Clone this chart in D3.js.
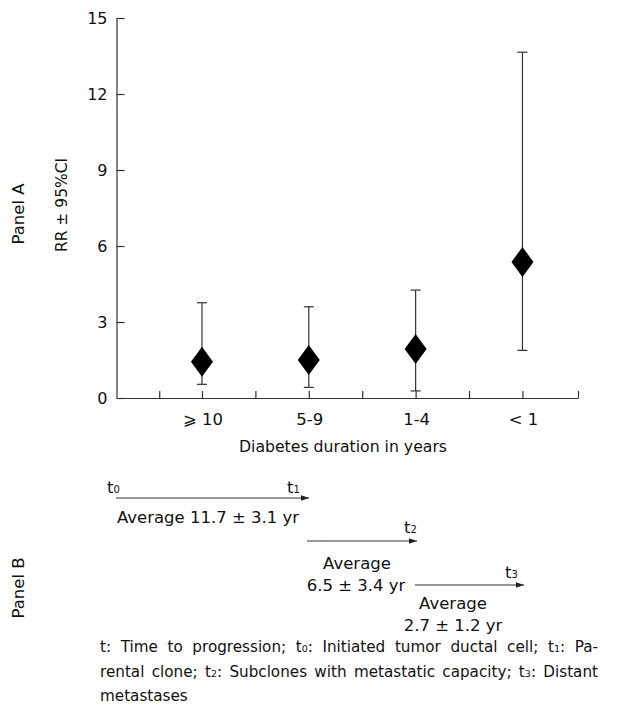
<!DOCTYPE html>
<html>
<head>
<meta charset="utf-8">
<script src="https://cdn.jsdelivr.net/npm/d3@7"></script>
<style>
  body { margin: 0; background: #fff; }
  #chart { position: relative; width: 625px; height: 718px; }
  .note { position: absolute; left: 100px; width: 498px; font-family: "DejaVu Sans", sans-serif;
          font-size: 15.2px; color: #111; line-height: 22.5px; }
  .note .ln { text-align: justify; text-align-last: justify; white-space: nowrap; }
  .note .last { text-align-last: left; }
  .note sub { font-size: 9.5px; vertical-align: baseline; }
</style>
</head>
<body>
<div id="chart"></div>
<script>
// Panel A data: relative risk and 95% CI by diabetes duration
const categories = ["⩾ 10", "5-9", "1-4", "< 1"];
const rr = [1.43, 1.5, 1.93, 5.37];
const ciLow = [0.54, 0.42, 0.28, 1.88];
const ciHigh = [3.76, 3.6, 4.26, 13.65];
const yTicks = [0, 3, 6, 9, 12, 15];

// Panel B: progression stages
const stages = ["0", "1", "2", "3"];
const avgLabels = [["Average 11.7 ± 3.1 yr"], ["Average", "6.5 ± 3.4 yr"], ["Average", "2.7 ± 1.2 yr"]];

const width = 625, height = 718;
const font = "'DejaVu Sans', sans-serif";

const container = d3.select("#chart");
const svg = container.append("svg")
    .attr("width", width)
    .attr("height", height)
    .style("position", "absolute")
    .style("left", 0).style("top", 0);

const x = d3.scaleLinear().domain([0.2, 4.52]).range([116.5, 578]);
const y = d3.scaleLinear().domain([0, 15]).range([398, 18]);

// axes
const yAxis = svg.append("g")
    .attr("transform", "translate(116.5,0)")
    .call(d3.axisLeft(y).tickValues(yTicks).tickSizeInner(-8).tickSizeOuter(0).tickPadding(9));
yAxis.selectAll("text").attr("font-family", font).attr("font-size", 16).attr("fill", "#111");

const xTickVals = [0.6, 1, 1.5, 2, 2.5, 3, 3.5, 4, 4.52];
svg.append("g")
    .attr("transform", "translate(0,398)")
    .call(d3.axisBottom(x).tickValues(xTickVals).tickSizeInner(-7).tickSizeOuter(0).tickFormat(""));

svg.selectAll(".domain, .tick line").attr("stroke", "#333").attr("stroke-width", 1.2);

// category labels
svg.append("g").selectAll("text")
    .data(categories)
    .join("text")
    .attr("x", (d, i) => x(i + 1) + 1)
    .attr("y", 425)
    .attr("text-anchor", "middle")
    .attr("font-family", font)
    .attr("font-size", 16.5)
    .attr("fill", "#111")
    .text(d => d);

svg.append("text")
    .attr("x", 343).attr("y", 452)
    .attr("text-anchor", "middle")
    .attr("font-family", font).attr("font-size", 15.7)
    .attr("fill", "#111")
    .text("Diabetes duration in years");

// y titles
svg.append("text")
    .attr("transform", "translate(67,205) rotate(-90)")
    .attr("text-anchor", "middle")
    .attr("font-family", font).attr("font-size", 15.5)
    .attr("fill", "#111")
    .text("RR ± 95%CI");

svg.append("text")
    .attr("transform", "translate(24,214) rotate(-90)")
    .attr("text-anchor", "middle")
    .attr("font-family", font).attr("font-size", 16.5)
    .attr("fill", "#111")
    .text("Panel A");

svg.append("text")
    .attr("transform", "translate(24,588) rotate(-90)")
    .attr("text-anchor", "middle")
    .attr("font-family", font).attr("font-size", 16.5)
    .attr("fill", "#111")
    .text("Panel B");

// error bars
const bars = svg.append("g").selectAll("g")
    .data(rr.map((v, i) => ({ v, lo: ciLow[i], hi: ciHigh[i], i })))
    .join("g")
    .attr("stroke", "#333")
    .attr("stroke-width", 1.2);

bars.append("line")
    .attr("x1", d => x(d.i + 1)).attr("x2", d => x(d.i + 1))
    .attr("y1", d => y(d.lo)).attr("y2", d => y(d.hi));
bars.append("line")
    .attr("x1", d => x(d.i + 1) - 5).attr("x2", d => x(d.i + 1) + 5)
    .attr("y1", d => y(d.hi)).attr("y2", d => y(d.hi));
bars.append("line")
    .attr("x1", d => x(d.i + 1) - 5).attr("x2", d => x(d.i + 1) + 5)
    .attr("y1", d => y(d.lo)).attr("y2", d => y(d.lo));

// diamonds
svg.append("g").selectAll("path")
    .data(rr)
    .join("path")
    .attr("transform", (d, i) => `translate(${x(i + 1)},${y(d)})`)
    .attr("d", "M0,-15L11,0L0,15L-11,0Z")
    .attr("fill", "#000");

// Panel B arrows
svg.append("defs").append("marker")
    .attr("id", "head")
    .attr("viewBox", "0 0 10 10")
    .attr("refX", 10).attr("refY", 5)
    .attr("markerWidth", 10).attr("markerHeight", 8)
    .attr("markerUnits", "userSpaceOnUse")
    .attr("orient", "auto")
    .append("path").attr("d", "M0,1.5L10,5L0,8.5Z").attr("fill", "#222");

const arrows = [
  { x1: 116, x2: 309, y: 498 },
  { x1: 307, x2: 417, y: 541 },
  { x1: 415, x2: 524, y: 585 }
];
svg.append("g").selectAll("line")
    .data(arrows)
    .join("line")
    .attr("x1", d => d.x1).attr("x2", d => d.x2)
    .attr("y1", d => d.y).attr("y2", d => d.y)
    .attr("stroke", "#333").attr("stroke-width", 1.2)
    .attr("marker-end", "url(#head)");

// stage labels t0..t3
const stagePos = [[107, 493], [287, 493], [404, 533], [505, 578]];
stages.forEach((s, i) => {
  const t = svg.append("text")
      .attr("x", stagePos[i][0]).attr("y", stagePos[i][1])
      .attr("font-family", font).attr("font-size", 16.5)
      .attr("fill", "#111");
  t.append("tspan").text("t");
  t.append("tspan").attr("font-size", 10).text(s);
});

// average labels
const avgPos = [[208, 523, 0], [357, 569, 22], [453, 609, 22]];
avgLabels.forEach((lines, i) => {
  lines.forEach((ln, j) => {
    svg.append("text")
        .attr("x", avgPos[i][0] - (i === 1 && j === 1 ? 1 : 0))
        .attr("y", avgPos[i][1] + j * avgPos[i][2])
        .attr("text-anchor", "middle")
        .attr("font-family", font).attr("font-size", 16.5)
        .attr("fill", "#111")
        .text(ln);
  });
});

// footnote
const note = container.append("div").attr("class", "note").style("top", "636px");
note.append("div").attr("class", "ln")
    .html("t: Time to progression; t<sub>0</sub>: Initiated tumor ductal cell; t<sub>1</sub>: Pa-");
note.append("div").attr("class", "ln")
    .html("rental clone; t<sub>2</sub>: Subclones with metastatic capacity; t<sub>3</sub>: Distant");
note.append("div").attr("class", "ln last")
    .html("metastases");
</script>
</body>
</html>
